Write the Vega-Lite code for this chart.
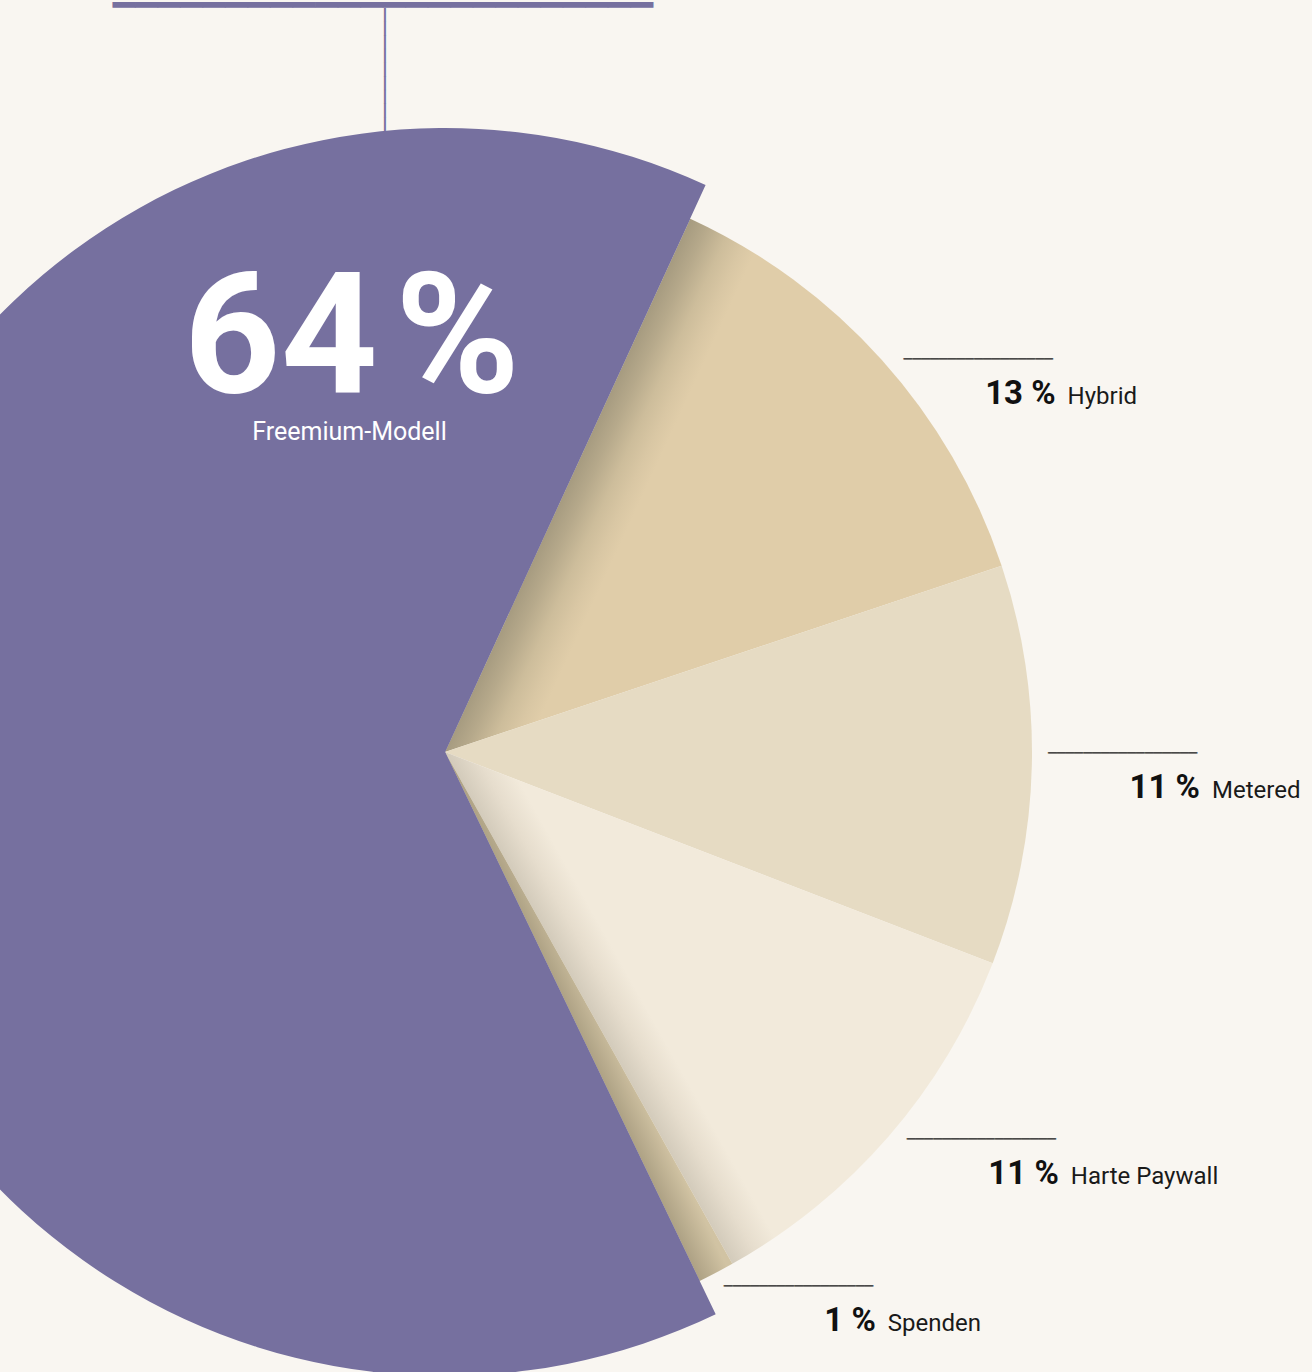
{
  "$schema": "https://vega.github.io/schema/vega-lite/v6.json",
  "width": 890,
  "height": 1240,
  "autosize": {"type": "none"},
  "padding": {"left": 0, "top": 132, "right": 422, "bottom": 0},
  "background": "#f9f6f1",
  "config": {"view": {"stroke": null}},
  "data": {
    "values": [
      {"model": "Hybrid", "value": 13, "order": 1},
      {"model": "Metered", "value": 11, "order": 2},
      {"model": "Harte Paywall", "value": 11, "order": 3},
      {"model": "Spenden", "value": 1, "order": 4},
      {"model": "Freemium-Modell", "value": 64, "order": 5}
    ]
  },
  "resolve": {"scale": {"theta": "independent"}},
  "layer": [
    {
      "mark": {"type": "arc", "outerRadius": 587},
      "encoding": {
        "theta": {"field": "value", "type": "quantitative", "stack": true, "scale": {"domain": [0, 100], "range": [0.431, 6.714]}},
        "order": {"field": "order", "type": "quantitative"},
        "color": {
          "condition": [
            {"test": "datum.model === 'Hybrid'", "value": {"gradient": "linear", "x1": 0.2205, "y1": 0.5, "x2": 0.3405, "y2": 0.553, "stops": [{"offset": 0, "color": "#a69b80"}, {"offset": 0.25, "color": "#b6a98b"}, {"offset": 0.55, "color": "#cdbd9b"}, {"offset": 0.8, "color": "#d9c7a4"}, {"offset": 1, "color": "#e0cda9"}]}},
            {"test": "datum.model === 'Harte Paywall'", "value": {"gradient": "linear", "x1": 0.263, "y1": 0.5, "x2": 0.345, "y2": 0.457, "stops": [{"offset": 0, "color": "#d3cbbb"}, {"offset": 0.5, "color": "#e6ddcd"}, {"offset": 1, "color": "#f2eadb"}]}},
            {"test": "datum.model === 'Spenden'", "value": {"gradient": "linear", "x1": 0.443, "y1": 0.5, "x2": 0.508, "y2": 0.442, "stops": [{"offset": 0, "color": "#aea285"}, {"offset": 1, "color": "#d1c3a3"}]}},
            {"test": "datum.model === 'Metered'", "value": "#e6dbc3"}
          ],
          "value": "#76709f"
        }
      }
    },
    {
      "mark": {"type": "arc", "outerRadius": 624},
      "encoding": {
        "theta": {"field": "value", "type": "quantitative", "stack": true, "scale": {"domain": [0, 100], "range": [0.431, 6.714]}},
        "order": {"field": "order", "type": "quantitative"},
        "color": {"condition": {"test": "datum.model === 'Freemium-Modell'", "value": "#76709f"}, "value": "transparent"}
      }
    },
    {
      "transform": [{"filter": "datum.model !== 'Freemium-Modell'"}],
      "mark": {"type": "text", "text": "─────────────────", "font": "DejaVu Sans Mono", "fontSize": 14.6, "align": "left", "baseline": "middle", "radius": 603, "color": "#222222"},
      "encoding": {
        "theta": {"field": "value", "type": "quantitative", "stack": true, "scale": {"type": "pow", "exponent": 1.1, "domain": [0, 100], "range": [0.5358, 7.175]}},
        "order": {"field": "order", "type": "quantitative"}
      }
    },
    {
      "transform": [{"filter": "datum.model !== 'Freemium-Modell'"}],
      "mark": {"type": "text", "text": {"expr": "datum.value + ' %'"}, "font": "Roboto", "fontWeight": "bold", "fontSize": 33, "align": "right", "baseline": "alphabetic", "radius": 603, "dx": 152, "dy": 44, "color": "#111111"},
      "encoding": {
        "theta": {"field": "value", "type": "quantitative", "stack": true, "scale": {"type": "pow", "exponent": 1.1, "domain": [0, 100], "range": [0.5358, 7.175]}},
        "order": {"field": "order", "type": "quantitative"}
      }
    },
    {
      "transform": [{"filter": "datum.model !== 'Freemium-Modell'"}],
      "mark": {"type": "text", "font": "Roboto", "fontSize": 24, "align": "left", "baseline": "alphabetic", "radius": 603, "dx": 164, "dy": 44, "color": "#1a1a1a"},
      "encoding": {
        "theta": {"field": "value", "type": "quantitative", "stack": true, "scale": {"type": "pow", "exponent": 1.1, "domain": [0, 100], "range": [0.5358, 7.175]}},
        "order": {"field": "order", "type": "quantitative"},
        "text": {"field": "model"}
      }
    },
    {
      "mark": {"type": "text", "text": {"expr": "datum.model === 'Freemium-Modell' ? datum.value + '\u200a%' : ''"}, "font": "Roboto", "fontWeight": "bold", "fontSize": 169, "align": "center", "baseline": "alphabetic", "radius": 372, "thetaOffset": 1.3265, "color": "#ffffff"},
      "encoding": {
        "theta": {"field": "value", "type": "quantitative", "stack": true, "scale": {"domain": [0, 100], "range": [0.431, 6.714]}},
        "order": {"field": "order", "type": "quantitative"}
      }
    },
    {
      "mark": {"type": "text", "text": {"expr": "datum.model === 'Freemium-Modell' ? datum.model : ''"}, "font": "Roboto", "fontSize": 25, "align": "center", "baseline": "alphabetic", "radius": 326.3, "thetaOffset": 1.2828, "color": "#ffffff"},
      "encoding": {
        "theta": {"field": "value", "type": "quantitative", "stack": true, "scale": {"domain": [0, 100], "range": [0.431, 6.714]}},
        "order": {"field": "order", "type": "quantitative"}
      }
    },
    {
      "mark": {"type": "text", "text": {"expr": "datum.model === 'Freemium-Modell' ? '─────────' : ''"}, "font": "DejaVu Sans Mono", "fontSize": 22.7, "angle": 90, "align": "left", "baseline": "middle", "radius": 746.5, "thetaOffset": 1.4977, "color": "#76709f"},
      "encoding": {
        "theta": {"field": "value", "type": "quantitative", "stack": true, "scale": {"domain": [0, 100], "range": [0.431, 6.714]}},
        "order": {"field": "order", "type": "quantitative"}
      }
    },
    {
      "mark": {"type": "text", "text": {"expr": "datum.model === 'Freemium-Modell' ? '▔▔▔▔▔▔▔▔▔▔▔▔▔▔▔▔▔▔▔▔▔▔▔▔' : ''"}, "font": "DejaVu Sans Mono", "fontSize": 37.4, "align": "left", "baseline": "top", "radius": 815.4, "thetaOffset": 1.1601, "color": "#76709f"},
      "encoding": {
        "theta": {"field": "value", "type": "quantitative", "stack": true, "scale": {"domain": [0, 100], "range": [0.431, 6.714]}},
        "order": {"field": "order", "type": "quantitative"}
      }
    }
  ]
}
